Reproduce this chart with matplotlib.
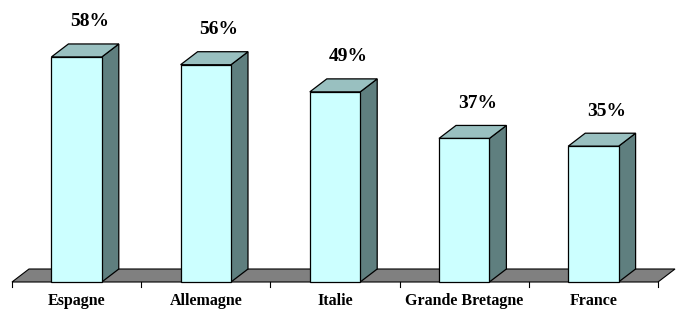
import matplotlib
matplotlib.use("Agg")
import matplotlib.pyplot as plt
from matplotlib.patches import Polygon

countries = ["Espagne", "Allemagne", "Italie", "Grande Bretagne", "France"]
shares = [58, 56, 49, 37, 35]

FRONT = "#CCFFFF"
TOP = "#99C0C0"
SIDE = "#5F7F7F"
FLOOR = "#808080"

W, H = 680, 309
PX_PER_PCT = 3.88
BAR_W = 0.39
DX = 17 / 129.2          # depth offset in category units
DY = 13 / PX_PER_PCT     # depth offset in percent units

plt.rcParams["font.family"] = ["Liberation Serif", "DejaVu Serif"]

fig = plt.figure(figsize=(W / 100, H / 100), dpi=100)
ax = fig.add_axes([12 / W, 27 / H, 646 / W, 282 / H])
n = len(countries)
ax.set_xlim(-0.5, n - 0.5)
ax.set_ylim(0, 282 / PX_PER_PCT)
ax.axis("off")

# floor
x0, x1 = -0.5, n - 0.5
ax.add_patch(Polygon([(x0, 0), (x1, 0), (x1 + DX, DY), (x0 + DX, DY)],
                     closed=True, fc=FLOOR, ec="black", lw=0.8, clip_on=False))

# tick marks along front edge
for b in range(n + 1):
    xb = b - 0.5
    ax.plot([xb, xb], [0, -5 / PX_PER_PCT], color="black", lw=0.8, clip_on=False)

for i, (name, v) in enumerate(zip(countries, shares)):
    l, r = i - BAR_W / 2, i + BAR_W / 2
    front = [(l, 0), (r, 0), (r, v), (l, v)]
    top = [(l, v), (r, v), (r + DX, v + DY), (l + DX, v + DY)]
    side = [(r, 0), (r + DX, DY), (r + DX, v + DY), (r, v)]
    for pts, c in ((side, SIDE), (top, TOP), (front, FRONT)):
        ax.add_patch(Polygon(pts, closed=True, fc=c, ec="black", lw=0.9,
                             joinstyle="miter", clip_on=False))
    ax.text(i + DX / 2 + 0.035, v + DY + 22 / PX_PER_PCT, f"{v}%",
            ha="center", va="center", fontsize=14, fontweight="bold")
    ax.text(i, -19 / PX_PER_PCT, name, ha="center", va="center",
            fontsize=11.5, fontweight="bold")

fig.savefig("out.png", dpi=100)
